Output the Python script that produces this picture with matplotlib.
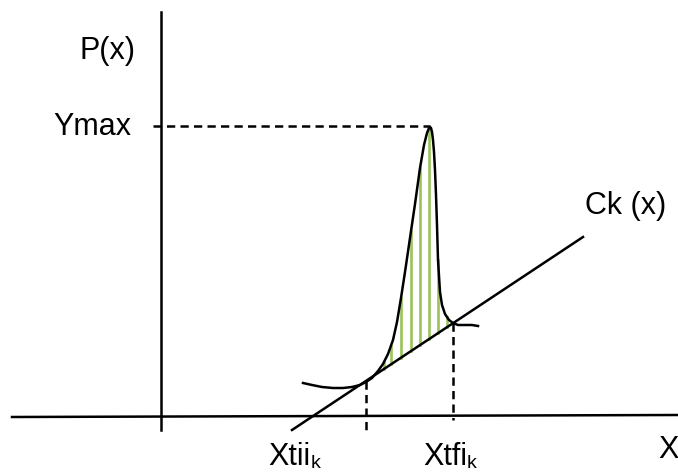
import numpy as np
import matplotlib.pyplot as plt

plt.rcParams['font.family'] = ['Liberation Sans', 'DejaVu Sans']

# curve P(x) (pixel-like coordinates, y grows downwards)
curve_x = [303, 312, 322, 333, 343, 352, 360, 366, 372, 378, 383, 388, 393, 397, 401, 405, 410,
           415, 420, 424, 427, 429, 430, 431, 432, 433, 434, 435, 436, 437, 438, 440, 442, 445,
           449, 453, 458, 465, 472, 478]
curve_y = [383, 385, 387, 388, 388, 387, 385, 382, 378, 371, 364, 354, 340, 322, 298, 272, 238,
           204, 168, 145, 133, 128, 127, 128, 132, 140, 152, 170, 195, 225, 260, 292, 305, 314,
           320, 323, 325, 325, 325, 326]

# straight line Ck(x)
ck_x = [292, 583]
ck_y = [430, 237]

# hatch positions between Ck and P
hatch_x = [384, 391, 401, 411, 420, 429, 438, 447]

x_ti = 366
x_tf = 453
y_max = 126


def ck_at(x):
    return ck_y[0] + (ck_y[1] - ck_y[0]) * (x - ck_x[0]) / (ck_x[1] - ck_x[0])


fig = plt.figure(figsize=(6.78, 4.73), dpi=100)
ax = fig.add_axes([0, 0, 1, 1])
ax.set_xlim(0, 678)
ax.set_ylim(473, 0)
ax.axis('off')

lw = 1.8
green = '#9BC35A'

# hatching
for hx in hatch_x:
    top = np.interp(hx, curve_x, curve_y)
    ax.plot([hx, hx], [ck_at(hx), top], color=green, lw=1.9, zorder=1)

# axes
ax.plot([12, 678], [417, 415], color='black', lw=lw)
ax.plot([161, 161], [12, 430], color='black', lw=lw)

# curve and line
ax.plot(curve_x, curve_y, color='black', lw=lw, zorder=3, solid_joinstyle='round')
ax.plot(ck_x, ck_y, color='black', lw=lw, zorder=3)

# dashed guides
dash = (3.3, 2.1)
ax.plot([153, 430], [y_max, y_max], color='black', lw=lw, dashes=dash)
ax.plot([x_ti, x_ti], [ck_at(x_ti), 430], color='black', lw=lw, dashes=dash)
ax.plot([x_tf, x_tf], [ck_at(x_tf), 420], color='black', lw=lw, dashes=dash)

fs = 22
ax.text(107, 51, 'P(x)', fontsize=fs, ha='center', va='center')
ax.text(131, 127, 'Ymax', fontsize=fs, ha='right', va='center')
ax.text(585, 206, 'Ck (x)', fontsize=fs, ha='left', va='center')
ax.text(658, 450, 'X', fontsize=fs, ha='left', va='center')

for lab, lx in [('Xtii', 268), ('Xtfi', 423)]:
    t = ax.text(lx, 472, lab, fontsize=fs, ha='left', va='bottom')
    ax.annotate('k', xy=(1, 0), xycoords=t, fontsize=14, ha='left', va='bottom')

fig.savefig('out.png', dpi=100)
